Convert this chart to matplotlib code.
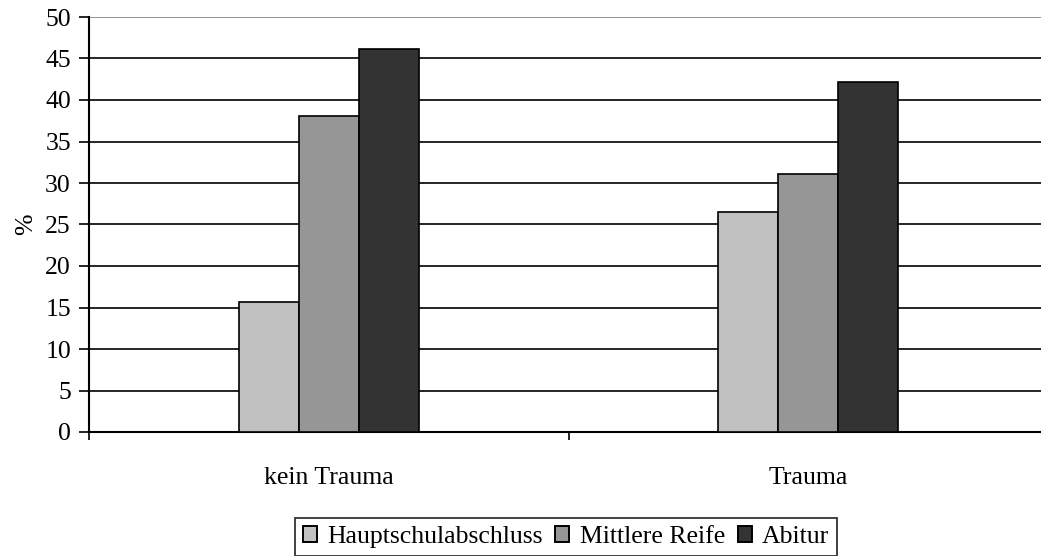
import matplotlib
matplotlib.use("Agg")
import matplotlib.pyplot as plt
from matplotlib.patches import Patch
import numpy as np

categories = ["kein Trauma", "Trauma"]
series_names = ["Hauptschulabschluss", "Mittlere Reife", "Abitur"]
hauptschule = [15.7, 26.5]
mittlere_reife = [38.1, 31.1]
abitur = [46.1, 42.2]
yticks = [0, 5, 10, 15, 20, 25, 30, 35, 40, 45, 50]

colors = ["#c0c0c0", "#969696", "#333333"]
plt.rcParams['font.family'] = ['Liberation Serif', 'DejaVu Serif']
FS = 18.5

fig = plt.figure(figsize=(10.41, 5.56), dpi=100)
ax = fig.add_axes([89/1041, 1 - 432/556, (1048 - 89)/1041, (432 - 17)/556])

centers = np.arange(len(categories)) + 0.5
w = 0.125
for i, (vals, c) in enumerate(zip([hauptschule, mittlere_reife, abitur], colors)):
    ax.bar(centers + (i - 1) * w, vals, width=w, color=c, edgecolor="black",
           linewidth=1.2, zorder=3)

ax.set_xlim(0, 2)
ax.set_ylim(0, 50)
ax.set_yticks(yticks)
ax.set_yticklabels([str(v) for v in yticks], fontsize=FS)
for y in yticks[1:]:
    ax.axhline(y, color="black" if y < 50 else "#808080", linewidth=1.2, zorder=1)

ax.set_xticks([0, 1, 2])
ax.set_xticklabels([])
ax.set_xticks(centers, minor=True)
ax.set_xticklabels(categories, minor=True, fontsize=FS)
ax.tick_params(axis="x", which="minor", length=0, pad=25)
ax.tick_params(axis="x", which="major", length=6, width=1.2, direction="out")
ax.tick_params(axis="y", length=7, width=1.2, direction="out", pad=6)

for s in ["top", "right"]:
    ax.spines[s].set_visible(False)
ax.spines["left"].set_linewidth(1.5)
ax.spines["bottom"].set_linewidth(1.5)

ax.set_ylabel("%", fontsize=FS, labelpad=6)

handles = [Patch(facecolor=c, edgecolor="black", linewidth=1.4) for c in colors]
leg = fig.legend(handles, series_names, loc="center", bbox_to_anchor=(566/1041, 1 - 537/556),
                 ncol=3, fontsize=FS, frameon=True, fancybox=False, edgecolor="black",
                 handlelength=0.55, handleheight=0.55, handletextpad=0.4, columnspacing=0.5,
                 borderpad=0.3, borderaxespad=0)
leg.get_frame().set_linewidth(1.3)

fig.savefig("out.png", dpi=100)
